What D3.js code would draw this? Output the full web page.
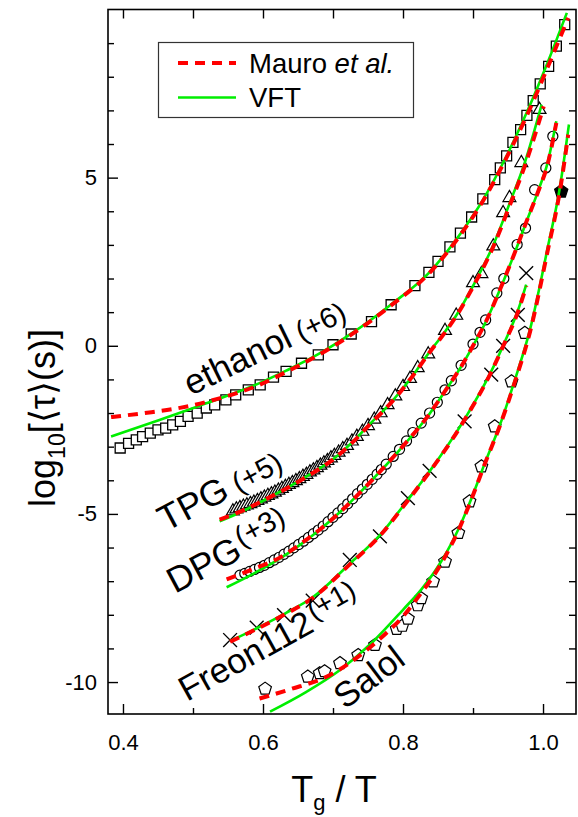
<!DOCTYPE html>
<html><head><meta charset="utf-8">
<script src="https://cdn.jsdelivr.net/npm/d3@7"></script>
<style>
body{margin:0;background:#fff}
svg{display:block}
text{font-family:"Liberation Sans",Arial,Helvetica,sans-serif;fill:#000}
</style>
</head><body>
<svg id="chart" width="578" height="817"></svg>
<script>
// ---------------- data ----------------
const xMajorTicks = [0.4, 0.6, 0.8, 1.0];
const xMinorTicks = [0.5, 0.7, 0.9];
const yMajorTicks = [-10, -5, 0, 5];
const yMinorTicks = [-9,-8,-7,-6,-4,-3,-2,-1,1,2,3,4,6,7,8,9];

// ethanol (+6) squares
const ethanolPts = [[0.396,-3.04],[0.408,-2.90],[0.419,-2.80],[0.428,-2.70],[0.439,-2.60],[0.450,-2.50],[0.461,-2.45],[0.471,-2.35],[0.482,-2.25],[0.493,-2.10],[0.506,-2.00],[0.519,-1.85],[0.531,-1.76],[0.547,-1.61],[0.561,-1.46],[0.579,-1.31],[0.596,-1.16],[0.615,-0.93],[0.633,-0.76],[0.655,-0.52],[0.679,-0.27],[0.700,0.03],[0.726,0.35],[0.755,0.72],[0.783,1.22],[0.817,1.79],[0.837,2.18],[0.850,2.51],[0.867,2.94],[0.882,3.35],[0.898,3.83],[0.914,4.37],[0.931,4.94],[0.939,5.29],[0.948,5.65],[0.957,6.05],[0.968,6.43],[0.977,6.85],[0.986,7.29],[0.996,7.79],[1.008,8.31],[1.019,8.91],[1.031,9.55]];
const ethanolMauro = [[0.383,-2.12],[0.431,-2.00],[0.483,-1.84],[0.535,-1.58],[0.595,-1.16],[0.633,-0.78],[0.679,-0.28],[0.726,0.33],[0.783,1.20],[0.837,2.15],[0.882,3.30],[0.914,4.30],[0.948,5.60],[0.977,6.85],[1.008,8.35],[1.036,9.75]];
const ethanolVft = [[0.383,-2.70],[0.450,-2.22],[0.507,-1.80],[0.554,-1.45],[0.595,-1.11],[0.633,-0.74],[0.679,-0.25],[0.726,0.36],[0.783,1.23],[0.837,2.17],[0.882,3.33],[0.914,4.33],[0.948,5.65],[0.977,6.95],[1.008,8.50],[1.034,9.90]];

// TPG (+5) triangles
const tpgPts = [[0.557,-4.92],[0.562,-4.86],[0.567,-4.82],[0.572,-4.78],[0.577,-4.74],[0.582,-4.70],[0.587,-4.66],[0.592,-4.61],[0.597,-4.56],[0.602,-4.51],[0.607,-4.46],[0.612,-4.41],[0.617,-4.36],[0.622,-4.30],[0.627,-4.25],[0.632,-4.19],[0.637,-4.13],[0.642,-4.08],[0.647,-4.02],[0.652,-3.96],[0.657,-3.89],[0.662,-3.83],[0.667,-3.76],[0.672,-3.70],[0.677,-3.63],[0.682,-3.56],[0.687,-3.49],[0.692,-3.42],[0.697,-3.34],[0.702,-3.27],[0.708,-3.17],[0.714,-3.07],[0.720,-2.97],[0.727,-2.84],[0.734,-2.70],[0.742,-2.55],[0.750,-2.38],[0.759,-2.19],[0.768,-2.00],[0.778,-1.76],[0.789,-1.50],[0.800,-1.22],[0.810,-0.98],[0.821,-0.66],[0.836,-0.25],[0.860,0.45],[0.876,0.90],[0.900,1.87],[0.912,2.14],[0.929,2.96],[0.943,3.95],[0.952,4.40],[0.969,5.44],[0.995,7.02]];
const tpgMauro = [[0.538,-5.17],[0.571,-4.90],[0.610,-4.50],[0.657,-3.96],[0.705,-3.30],[0.729,-2.85],[0.752,-2.35],[0.776,-1.85],[0.795,-1.40],[0.819,-0.75],[0.836,-0.25],[0.860,0.40],[0.876,0.88],[0.900,1.75],[0.929,2.95],[0.952,4.15],[0.974,5.35],[1.001,7.12]];
const tpgVft = [[0.538,-5.22],[0.571,-4.92],[0.610,-4.50],[0.657,-3.95],[0.705,-3.29],[0.729,-2.84],[0.752,-2.34],[0.776,-1.84],[0.795,-1.39],[0.819,-0.74],[0.836,-0.24],[0.860,0.42],[0.876,0.90],[0.900,1.78],[0.929,3.00],[0.952,4.22],[0.974,5.45],[0.998,7.17]];

// DPG (+3) circles
const dpgPts = [[0.567,-6.82],[0.574,-6.77],[0.581,-6.71],[0.588,-6.65],[0.595,-6.59],[0.602,-6.53],[0.609,-6.45],[0.616,-6.37],[0.623,-6.29],[0.630,-6.20],[0.637,-6.11],[0.644,-6.01],[0.651,-5.91],[0.658,-5.81],[0.665,-5.70],[0.672,-5.59],[0.679,-5.48],[0.686,-5.36],[0.693,-5.23],[0.700,-5.10],[0.707,-4.97],[0.714,-4.84],[0.721,-4.70],[0.728,-4.55],[0.735,-4.40],[0.742,-4.26],[0.749,-4.12],[0.756,-3.97],[0.763,-3.82],[0.769,-3.68],[0.776,-3.52],[0.786,-3.29],[0.795,-3.08],[0.805,-2.83],[0.814,-2.58],[0.826,-2.30],[0.838,-2.00],[0.849,-1.68],[0.860,-1.31],[0.869,-1.04],[0.883,-0.58],[0.900,0.05],[0.910,0.40],[0.918,0.77],[0.934,1.57],[0.944,2.00],[0.963,3.01],[0.975,3.50],[0.988,4.64],[1.004,5.29],[1.014,6.23]];
const dpgMauro = [[0.548,-6.95],[0.586,-6.64],[0.624,-6.30],[0.651,-5.93],[0.681,-5.47],[0.714,-4.87],[0.736,-4.42],[0.769,-3.70],[0.795,-3.10],[0.838,-2.02],[0.860,-1.35],[0.883,-0.62],[0.900,0.00],[0.918,0.70],[0.944,1.95],[0.963,2.95],[0.975,3.62],[0.994,4.64],[1.006,5.35],[1.019,6.63]];
const dpgVft = [[0.548,-7.18],[0.586,-6.78],[0.624,-6.33],[0.651,-5.95],[0.681,-5.47],[0.714,-4.87],[0.736,-4.42],[0.769,-3.70],[0.795,-3.10],[0.838,-2.02],[0.860,-1.35],[0.883,-0.62],[0.900,0.00],[0.918,0.70],[0.944,1.95],[0.963,2.95],[0.975,3.62],[0.994,4.66],[1.006,5.40],[1.019,6.68]];

// Freon112 (+1) crosses
const freonPts = [[0.553,-8.75],[0.591,-8.38],[0.630,-8.01],[0.671,-7.58],[0.724,-6.37],[0.767,-5.67],[0.807,-4.53],[0.838,-3.72],[0.888,-2.25],[0.926,-0.86],[0.943,0.00],[0.964,0.92],[0.976,2.16]];
const freonMauro = [[0.553,-8.80],[0.591,-8.42],[0.630,-8.00],[0.671,-7.50],[0.724,-6.50],[0.767,-5.65],[0.807,-4.60],[0.838,-3.75],[0.888,-2.20],[0.926,-0.78],[0.945,0.08],[0.964,1.00],[0.976,1.77]];
const freonVft = [[0.553,-8.78],[0.591,-8.40],[0.630,-7.98],[0.671,-7.48],[0.724,-6.48],[0.767,-5.63],[0.807,-4.58],[0.838,-3.73],[0.888,-2.18],[0.926,-0.76],[0.945,0.10],[0.964,1.04],[0.976,1.82]];

// Salol pentagons (open) and the single filled point
const salolPts = [[0.603,-10.20],[0.664,-9.84],[0.681,-9.74],[0.688,-9.68],[0.710,-9.44],[0.736,-9.20],[0.760,-8.90],[0.791,-8.42],[0.799,-8.33],[0.807,-8.12],[0.821,-7.72],[0.826,-7.51],[0.843,-7.01],[0.860,-6.42],[0.879,-5.57],[0.895,-4.63],[0.912,-3.59],[0.931,-2.40],[0.955,-1.06],[0.974,0.38]];
const salolFilled = [[1.026,4.59]];
const salolMauro = [[0.595,-10.49],[0.638,-10.22],[0.695,-9.80],[0.748,-9.05],[0.772,-8.62],[0.800,-8.05],[0.826,-7.35],[0.845,-6.80],[0.862,-6.20],[0.880,-5.45],[0.897,-4.60],[0.918,-3.45],[0.938,-2.40],[0.960,-1.06],[0.981,0.38],[1.007,2.86],[1.024,4.59],[1.036,6.28]];
const salolVft = [[0.610,-10.88],[0.662,-10.29],[0.710,-9.64],[0.757,-8.80],[0.800,-7.85],[0.826,-7.25],[0.845,-6.72],[0.862,-6.15],[0.880,-5.42],[0.897,-4.58],[0.918,-3.43],[0.938,-2.38],[0.960,-1.00],[0.981,0.45],[1.007,2.95],[1.024,4.70],[1.037,6.58]];

const legendLabels = ["Mauro ", "et al.", "VFT"];

// ---------------- layout ----------------
const plot = {left:108, right:576, top:9.5, bottom:714};
const svg = d3.select("#chart");

const x = d3.scaleLinear().domain([0.3786, 1.0471]).range([plot.left, plot.right]);
const y = d3.scaleLinear().domain([-10.95, 10.0]).range([plot.bottom, plot.top]);

svg.append("defs").append("clipPath").attr("id","clip")
  .append("rect").attr("x",plot.left).attr("y",plot.top)
  .attr("width",plot.right-plot.left).attr("height",plot.bottom-plot.top);

// ---------------- custom symbols ----------------
const symPentagon = { draw(ctx, size){
  const r = Math.sqrt(size/2.378);
  for(let i=0;i<5;i++){ const a = -Math.PI/2 + i*2*Math.PI/5;
    const px = r*Math.cos(a), py = r*Math.sin(a);
    if(i===0) ctx.moveTo(px,py); else ctx.lineTo(px,py); }
  ctx.closePath(); } };
const symTimes = { draw(ctx, size){
  const r = Math.sqrt(size)/2;
  ctx.moveTo(-r,-r); ctx.lineTo(r,r); ctx.moveTo(r,-r); ctx.lineTo(-r,r); } };

const gMarks = svg.append("g").attr("clip-path","url(#clip)");
function drawMarks(pts, type, size, fill, sw){
  gMarks.append("g").selectAll("path").data(pts).join("path")
    .attr("transform", d => `translate(${x(d[0])},${y(d[1])})`)
    .attr("d", d3.symbol().type(type).size(size))
    .attr("fill", fill).attr("stroke","#000").attr("stroke-width", sw);
}
drawMarks(ethanolPts, d3.symbolSquare, 100, "#fff", 1.3);
drawMarks(tpgPts, d3.symbolTriangle, 72, "#fff", 1.2);
drawMarks(dpgPts, d3.symbolCircle, 80, "#fff", 1.2);
drawMarks(freonPts, symTimes, 190, "none", 1.4);
drawMarks(salolPts, symPentagon, 105, "#fff", 1.2);
drawMarks(salolFilled, symPentagon, 115, "#000", 1.2);

// ---------------- curves ----------------
const line = d3.line().x(d=>x(d[0])).y(d=>y(d[1])).curve(d3.curveMonotoneX);
const gLines = svg.append("g").attr("clip-path","url(#clip)");
const vftSets = [ethanolVft, tpgVft, dpgVft, freonVft, salolVft];
const mauroSets = [ethanolMauro, tpgMauro, dpgMauro, freonMauro, salolMauro];
vftSets.forEach(s => gLines.append("path").attr("d", line(s))
  .attr("fill","none").attr("stroke","#00ee00").attr("stroke-width",2.6));
mauroSets.forEach(s => gLines.append("path").attr("d", line(s))
  .attr("fill","none").attr("stroke","#ff0000").attr("stroke-width",4)
  .attr("stroke-dasharray","10,7"));

// ---------------- axes ----------------
const fmtX = d3.format(".1f");
const fmtY = d => String(d);
function styleAxis(g){ g.select(".domain").remove(); g.selectAll("line").attr("stroke","#000").attr("stroke-width",1.4); }

svg.append("g").attr("transform",`translate(0,${plot.bottom})`)
  .call(d3.axisBottom(x).tickValues(xMajorTicks).tickSize(-10).tickPadding(20).tickFormat(fmtX))
  .call(styleAxis).call(g=>g.selectAll("text").attr("font-size",22).style("font-family","'Liberation Sans',Arial,sans-serif"));
svg.append("g").attr("transform",`translate(0,${plot.bottom})`)
  .call(d3.axisBottom(x).tickValues(xMinorTicks).tickSize(-6).tickFormat(""))
  .call(styleAxis);
svg.append("g").attr("transform",`translate(0,${plot.top})`)
  .call(d3.axisTop(x).tickValues(xMajorTicks.concat(xMinorTicks)).tickSize(-9).tickFormat(""))
  .call(styleAxis);

svg.append("g").attr("transform",`translate(${plot.left},0)`)
  .call(d3.axisLeft(y).tickValues(yMajorTicks).tickSize(-10).tickPadding(11).tickFormat(fmtY))
  .call(styleAxis).call(g=>g.selectAll("text").attr("font-size",22).style("font-family","'Liberation Sans',Arial,sans-serif"));
svg.append("g").attr("transform",`translate(${plot.left},0)`)
  .call(d3.axisLeft(y).tickValues(yMinorTicks).tickSize(-6).tickFormat(""))
  .call(styleAxis);
svg.append("g").attr("transform",`translate(${plot.right},0)`)
  .call(d3.axisRight(y).tickValues(yMajorTicks).tickSize(-10).tickFormat(""))
  .call(styleAxis);
svg.append("g").attr("transform",`translate(${plot.right},0)`)
  .call(d3.axisRight(y).tickValues(yMinorTicks).tickSize(-7).tickFormat(""))
  .call(styleAxis);

svg.append("rect").attr("x",plot.left).attr("y",plot.top)
  .attr("width",plot.right-plot.left).attr("height",plot.bottom-plot.top)
  .attr("fill","none").attr("stroke","#000").attr("stroke-width",1.6);

// ---------------- axis titles ----------------
const xt = svg.append("text").attr("x",334).attr("y",802).attr("text-anchor","middle").attr("font-size",36);
xt.append("tspan").text("T");
xt.append("tspan").attr("font-size",22).attr("dy",8).text("g");
xt.append("tspan").attr("dy",-8).text(" / T");

const yt = svg.append("text").attr("transform","translate(55,418) rotate(-90)")
  .attr("text-anchor","middle").attr("font-size",36);
yt.append("tspan").text("log");
yt.append("tspan").attr("font-size",23).attr("dy",10).text("10");
yt.append("tspan").attr("dy",-10).text("[\u27E8\u03C4\u27E9(s)]");

// ---------------- legend ----------------
svg.append("rect").attr("x",158.5).attr("y",42.5).attr("width",255).attr("height",75)
  .attr("fill","#fff").attr("stroke","#333").attr("stroke-width",1.2);
svg.append("line").attr("x1",178).attr("x2",236).attr("y1",63).attr("y2",63)
  .attr("stroke","#ff0000").attr("stroke-width",4).attr("stroke-dasharray","10,7");
svg.append("line").attr("x1",178).attr("x2",236).attr("y1",97.5).attr("y2",97.5)
  .attr("stroke","#00ee00").attr("stroke-width",2.6);
const l1 = svg.append("text").attr("x",249).attr("y",72.5).attr("font-size",27.5);
l1.append("tspan").text(legendLabels[0]);
l1.append("tspan").attr("font-style","italic").text(legendLabels[1]);
svg.append("text").attr("x",249).attr("y",107).attr("font-size",27.5).text(legendLabels[2]);

// ---------------- curve labels ----------------
function curveLabel(px, py, ang, main, extra, raised, gap, fs, fs2){
  const t = svg.append("text").attr("transform",`translate(${px},${py}) rotate(${ang})`).attr("font-size",fs);
  t.append("tspan").text(main);
  if(extra){ t.append("tspan").attr("font-size",fs2).attr("dx",gap).attr("dy",raised).text(extra); }
}
curveLabel(191, 396, -26, "ethanol", "(+6)", 0, 8, 35, 29);
curveLabel(166, 532, -28, "TPG", "(+5)", 0, 8, 36, 29);
curveLabel(175, 594, -28, "DPG", "(+3)", -10, 2, 36, 29);
curveLabel(187, 702, -29, "Freon112", "(+1)", -10, 3, 35, 28);
curveLabel(345, 710, -37, "Salol", null, 0, 0, 35, 0);
</script>
</body></html>
